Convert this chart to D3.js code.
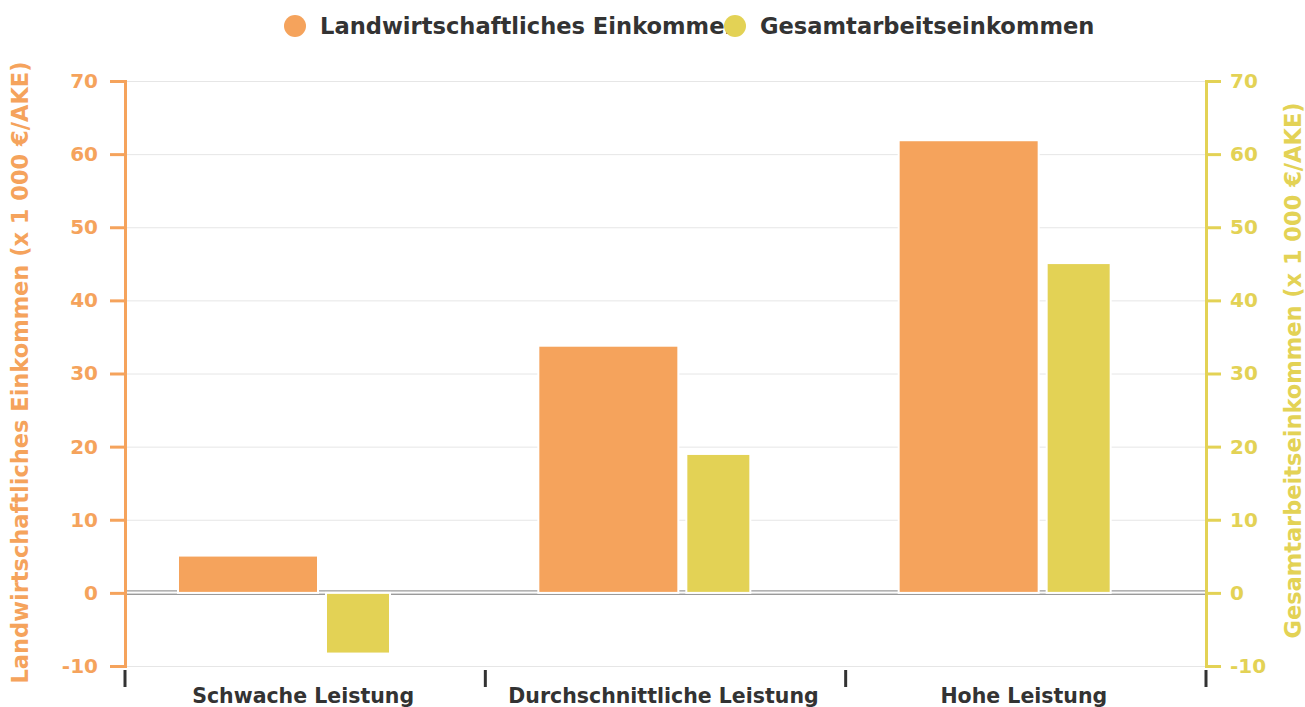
<!DOCTYPE html>
<html>
<head>
<meta charset="utf-8">
<script src="https://cdn.jsdelivr.net/npm/d3@7"></script>
<style>
  body { margin: 0; background: #fff; }
  text { font-family: "DejaVu Sans", sans-serif; font-weight: bold; }
</style>
</head>
<body>
<svg id="chart" width="1305" height="707"></svg>
<script>
// data
var categories = ["Schwache Leistung", "Durchschnittliche Leistung", "Hohe Leistung"];
var landwirtschaft = [5.1, 33.8, 61.9];
var gesamtarbeit = [-8.3, 19.0, 45.1];
var yTicks = [-10, 0, 10, 20, 30, 40, 50, 60, 70];
var seriesNames = ["Landwirtschaftliches Einkommen", "Gesamtarbeitseinkommen"];

var orange = "#f5a35c", yellow = "#e3d255";
var svg = d3.select("#chart");
var plotLeft = 125, plotRight = 1206, plotTop = 81, plotBottom = 666;

var x = d3.scaleBand().domain(categories).range([plotLeft, plotRight]);
var yL = d3.scaleLinear().domain([-10, 70]).range([plotBottom, plotTop]);
var yR = d3.scaleLinear().domain([-10, 70]).range([plotBottom, plotTop]);

// grid
svg.append("g").selectAll("line").data(yTicks).join("line")
  .attr("x1", plotLeft).attr("x2", plotRight)
  .attr("y1", function (d) { return yL(d) + 0.5; })
  .attr("y2", function (d) { return yL(d) + 0.5; })
  .attr("stroke", "#e6e6e6").attr("stroke-width", 1);

// double zero line
var z = yL(0);
[z - 2, z + 1.5].forEach(function (yy) {
  svg.append("line").attr("x1", plotLeft).attr("x2", plotRight)
    .attr("y1", yy).attr("y2", yy)
    .attr("stroke", "#9a9a9a").attr("stroke-width", 1.2);
});

// bars
var bw = x.bandwidth();
function bar(values, offset, width, color, scale) {
  svg.append("g").selectAll("rect").data(values).join("rect")
    .attr("x", function (d, i) { return x(categories[i]) + offset; })
    .attr("width", width)
    .attr("y", function (d) { return Math.min(scale(d), scale(0)); })
    .attr("height", function (d) { return Math.abs(scale(d) - scale(0)); })
    .attr("fill", color)
    .attr("stroke", "#fff").attr("stroke-width", 2);
}
bar(landwirtschaft, 53, 140, orange, yL);
bar(gesamtarbeit, 201, 64, yellow, yR);

// plain hyphen for negatives, like the source
var fmt = function (d) { return String(d); };

// left axis
var axL = svg.append("g").attr("transform", "translate(" + plotLeft + ",0)")
  .call(d3.axisLeft(yL).tickValues(yTicks).tickFormat(fmt).tickSize(15).tickPadding(12));
axL.select(".domain").attr("stroke", orange).attr("stroke-width", 3);
axL.selectAll(".tick line").attr("stroke", orange).attr("stroke-width", 3);
axL.selectAll(".tick text").attr("fill", orange).attr("font-size", 20)
  .attr("font-family", "DejaVu Sans").attr("font-weight", "bold");

// right axis
var axR = svg.append("g").attr("transform", "translate(" + plotRight + ",0)")
  .call(d3.axisRight(yR).tickValues(yTicks).tickFormat(fmt).tickSize(15).tickPadding(9));
axR.select(".domain").attr("stroke", yellow).attr("stroke-width", 3);
axR.selectAll(".tick line").attr("stroke", yellow).attr("stroke-width", 3);
axR.selectAll(".tick text").attr("fill", yellow).attr("font-size", 20)
  .attr("font-family", "DejaVu Sans").attr("font-weight", "bold");

// bottom ticks and labels
var bounds = [plotLeft].concat(categories.map(function (c) { return x(c) + bw; }));
svg.append("g").selectAll("line").data(bounds).join("line")
  .attr("x1", function (d) { return d; }).attr("x2", function (d) { return d; })
  .attr("y1", 670).attr("y2", 687)
  .attr("stroke", "#333").attr("stroke-width", 3);
svg.append("g").selectAll("text").data(categories).join("text")
  .attr("x", function (d) { return x(d) + bw / 2 - 2; })
  .attr("y", 703).attr("text-anchor", "middle")
  .attr("font-size", 20.5).attr("fill", "#333").text(function (d) { return d; });

// axis titles
svg.append("text").attr("transform", "translate(28," + ((plotTop + plotBottom) / 2 - 1) + ") rotate(-90)")
  .attr("text-anchor", "middle").attr("font-size", 22.5).attr("fill", orange)
  .text("Landwirtschaftliches Einkommen (x 1 000 €/AKE)");
svg.append("text").attr("transform", "translate(1301," + ((plotTop + plotBottom) / 2 - 3) + ") rotate(-90)")
  .attr("text-anchor", "middle").attr("font-size", 22.5).attr("fill", yellow)
  .text("Gesamtarbeitseinkommen (x 1 000 €/AKE)");

// legend (second marker overlaps the first label, as in the source)
var legend = [{ name: seriesNames[0], color: orange, cx: 295 },
              { name: seriesNames[1], color: yellow, cx: 735 }];
legend.forEach(function (l) {
  svg.append("text").attr("x", l.cx + 25).attr("y", 34)
    .attr("font-size", 22.6).attr("fill", "#333").text(l.name);
});
legend.forEach(function (l) {
  svg.append("circle").attr("cx", l.cx).attr("cy", 26).attr("r", 11).attr("fill", l.color);
});
</script>
</body>
</html>
